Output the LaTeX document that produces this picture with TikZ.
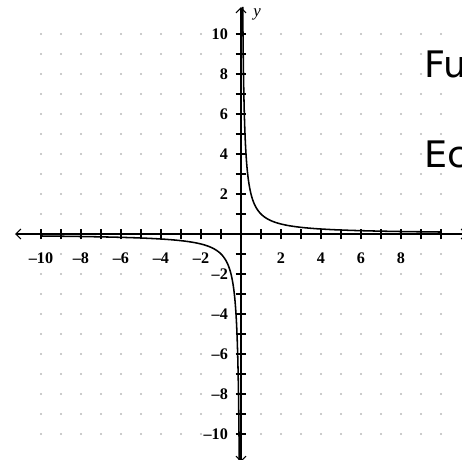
\documentclass[tikz,border=0pt]{standalone}
\usepackage{fontspec}
\setmainfont{Liberation Serif}
\newfontfamily\bigsans{DejaVu Sans}
\usetikzlibrary{arrows.meta}
\tikzset{
  axisline/.style={line width=1.4pt,
    {Straight Barb[length=3.6pt,width=7pt,line width=0.8pt]}-{Straight Barb[length=3.6pt,width=7pt,line width=0.8pt]}},
  tickmark/.style={line width=1.4pt},
  griddot/.style={fill=gray!55, draw=none},
  ticklabel/.style={font=\bfseries\fontsize{11.5}{12}\selectfont, fill=white, inner sep=0.6pt},
  curveline/.style={line width=1.1pt, line join=round},
  bigtext/.style={font=\bigsans\fontsize{26}{26}\selectfont, inner sep=0pt, fill=white, anchor=base west}
}
\begin{document}
\begin{tikzpicture}[x=0.5cm,y=0.5cm]
\useasboundingbox (-12.05,-11.25) rectangle (11.05,11.7);
% grid dots
\foreach \i in {-10,...,10}{
  \foreach \j in {-10,...,10}{
    \ifnum\i=0 \else \ifnum\j=0 \else
      \fill[griddot] (\i,\j) circle (0.75pt);
    \fi\fi
  }
}
% x labels
\foreach \i/\t in {-10/–10,-8/–8,-6/–6,-4/–4,-2/–2,2/2,4/4,6/6,8/8}{
  \node[ticklabel] (xl\i) at (\i,-1.22) {\t};
}
% y labels
\foreach \j/\t in {10/10,8/8,6/6,4/4,2/2,-2/–2,-4/–4,-6/–6,-8/–8,-10/–10}{
  \node[ticklabel, anchor=east] (yl\j) at (-0.6,\j) {\t};
}
% text
\node[bigtext] (fu) at (9.17,7.85) {Fu};
\node[bigtext] (ec) at (9.17,3.35) {Ec};
% axes
\coordinate (xleft) at (-11.3,0);
\coordinate (xright) at (11.3,0);
\coordinate (ybot) at (0,-11.4);
\coordinate (ytop) at (0,11.35);
\draw[axisline] (xleft) -- (xright);
\draw[axisline] (ybot) -- (ytop);
\foreach \i in {-10,...,-1,1,2,...,10}{
  \draw[tickmark] (\i,-0.27) -- (\i,0.27);
  \draw[tickmark] (-0.27,\i) -- (0.27,\i);
}
\node[font=\itshape\fontsize{12}{12}\selectfont, inner sep=0pt] (ylab) at (0.8,11.0) {y};
% curve y = 1/x
\draw[curveline] plot[domain=-2.43:2.3026, samples=200] ({exp(\x)},{exp(-\x)});
\draw[curveline] plot[domain=-2.43:2.3026, samples=200] ({-exp(\x)},{-exp(-\x)});
\end{tikzpicture}
\end{document}
